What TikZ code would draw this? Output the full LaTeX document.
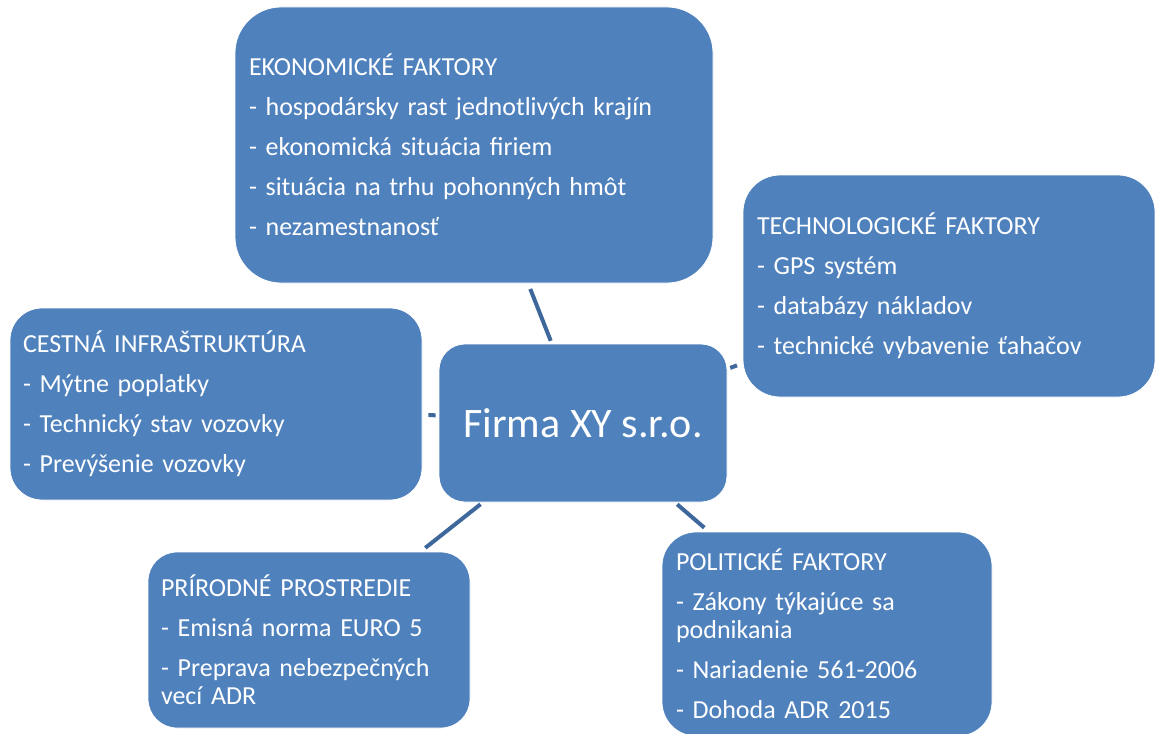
\documentclass[tikz,border=0pt]{standalone}
\usepackage{fontspec}
\setmainfont{Carlito}
\definecolor{boxblue}{RGB}{79,129,189}
\definecolor{lineblue}{RGB}{62,104,155}
\begin{document}
\begin{tikzpicture}[x=1pt,y=-1pt,
  factorbox/.style={rounded corners=#1, fill=boxblue, draw=white, line width=0.8pt,
    text=white, align=left, inner xsep=14pt, inner ysep=0pt,
    font=\fontsize{26}{28}\selectfont},
  hubbox/.style={rounded corners=26pt, fill=boxblue, draw=white, line width=0.8pt,
    text=white, align=center, minimum width=288pt, minimum height=158pt,
    font=\fontsize{42}{48}\selectfont},
  conn/.style={draw=lineblue, line width=4pt, shorten <=3pt, shorten >=6pt}]
\useasboundingbox (0,0) rectangle (1155,733);

\node[factorbox=46pt, text width=450pt, minimum height=276pt] (eko) at (474,145)
  {EKONOMICKÉ FAKTORY\\[12pt]
   - hospodársky rast jednotlivých krajín\\[12pt]
   - ekonomická situácia firiem\\[12pt]
   - situácia na trhu pohonných hmôt\\[12pt]
   - nezamestnanosť};

\node[factorbox=37pt, text width=384pt, minimum height=222pt] (tech) at (949,286)
  {TECHNOLOGICKÉ FAKTORY\\[12pt]
   - GPS systém\\[12pt]
   - databázy nákladov\\[12pt]
   - technické vybavenie ťahačov};

\node[factorbox=32pt, inner xsep=13pt, text width=386pt, minimum height=192pt] (cest) at (216,404)
  {CESTNÁ INFRAŠTRUKTÚRA\\[12pt]
   - Mýtne poplatky\\[12pt]
   - Technický stav vozovky\\[12pt]
   - Prevýšenie vozovky};

\node[factorbox=29pt, inner xsep=13pt, text width=296pt, minimum height=176pt] (prir) at (309,640)
  {PRÍRODNÉ PROSTREDIE\\[12pt]
   - Emisná norma EURO 5\\[12pt]
   - Preprava nebezpečných\\
   vecí ADR};

\node[factorbox=34pt, text width=302pt, minimum height=204pt] (pol) at (827,634)
  {POLITICKÉ FAKTORY\\[12pt]
   - Zákony týkajúce sa\\
   podnikania\\[12pt]
   - Nariadenie 561-2006\\[12pt]
   - Dohoda ADR 2015};

\node[hubbox] (firma) at (583,423) {Firma XY s.r.o.};

\draw[conn] (firma) -- (eko);
\draw[conn] (firma) -- (tech);
\draw[conn] (firma) -- (cest);
\draw[conn] (firma) -- (prir);
\draw[conn] (firma) -- (pol);
\end{tikzpicture}
\end{document}
